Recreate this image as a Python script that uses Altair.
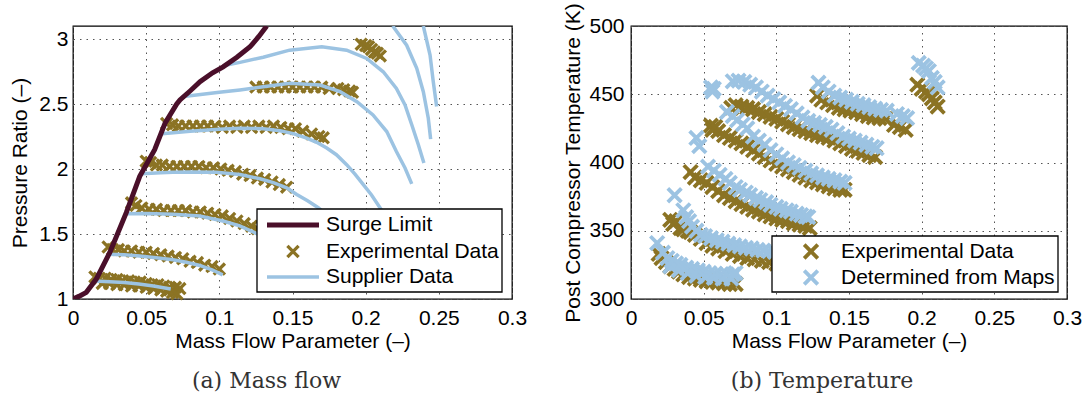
import altair as alt
import pandas as pd

OLIVE = "#8B7324"
BLUE = "#9CC3E2"
MAROON = "#4A0F2A"
FONT = "Liberation Sans"
SERIF = "DejaVu Serif"
XPATH = "M-1,-1L1,1M-1,1L1,-1"

# ---------------- tick values ----------------
x_ticks = [0, 0.05, 0.1, 0.15, 0.2, 0.25, 0.3]
pr_ticks = [1, 1.5, 2, 2.5, 3]
t_ticks = [300, 350, 400, 450, 500]

# ---------------- (a) surge limit ----------------
surge_x = [0, 0.004, 0.0091, 0.0159, 0.0251, 0.0364, 0.0456, 0.0558, 0.063, 0.0709, 0.0731, 0.08, 0.0868, 0.0954, 0.1026, 0.112, 0.121, 0.127, 0.1324]
surge_y = [1.0, 1.02, 1.051, 1.153, 1.357, 1.664, 1.944, 2.148, 2.355, 2.5, 2.531, 2.6, 2.671, 2.74, 2.786, 2.86, 2.94, 3.02, 3.1]

# ---------------- (a) supplier speed lines ----------------
sup_A_x = [0.0146, 0.025, 0.035, 0.045, 0.055, 0.0668]
sup_A_y = [1.138, 1.133, 1.127, 1.115, 1.100, 1.077]
sup_B_x = [0.0237, 0.035, 0.0456, 0.0568, 0.0683, 0.0775, 0.0866, 0.095, 0.1023]
sup_B_y = [1.345, 1.340, 1.330, 1.318, 1.302, 1.283, 1.258, 1.225, 1.186]
sup_C_x = [0.036, 0.05, 0.0683, 0.0866, 0.1025, 0.1139, 0.1241, 0.135, 0.146]
sup_C_y = [1.656, 1.658, 1.652, 1.638, 1.600, 1.562, 1.510, 1.450, 1.380]
sup_D_x = [0.0469, 0.06, 0.0683, 0.08, 0.098, 0.1141, 0.1278, 0.1369, 0.146, 0.1529, 0.1603, 0.1676, 0.176]
sup_D_y = [1.964, 1.972, 1.975, 1.977, 1.975, 1.957, 1.925, 1.895, 1.855, 1.804, 1.755, 1.702, 1.62]
sup_E_x = [0.061, 0.08, 0.1, 0.1141, 0.130, 0.1415, 0.1505, 0.1597, 0.1665, 0.1734, 0.180, 0.187, 0.1927, 0.1984, 0.204, 0.2098, 0.214]
sup_E_y = [2.271, 2.290, 2.305, 2.314, 2.310, 2.294, 2.272, 2.238, 2.205, 2.161, 2.11, 2.033, 1.96, 1.88, 1.80, 1.702, 1.63]
sup_F_x = [0.0743, 0.1, 0.1141, 0.13, 0.148, 0.1688, 0.1825, 0.194, 0.205, 0.2144, 0.221, 0.2269, 0.2315]
sup_F_y = [2.556, 2.590, 2.608, 2.632, 2.659, 2.646, 2.595, 2.518, 2.416, 2.288, 2.135, 2.008, 1.886]
sup_G_x = [0.105, 0.1141, 0.13, 0.148, 0.170, 0.187, 0.2007, 0.212, 0.221, 0.2269, 0.2315, 0.236, 0.2398]
sup_G_y = [2.80, 2.82, 2.86, 2.914, 2.94, 2.914, 2.85, 2.748, 2.62, 2.493, 2.34, 2.187, 2.046]
sup_H_x = [0.2185, 0.228, 0.2349, 0.2394, 0.2428, 0.2444]
sup_H_y = [3.1, 2.952, 2.774, 2.595, 2.39, 2.23]
sup_I_x = [0.2394, 0.244, 0.2462, 0.2485]
sup_I_y = [3.1, 2.876, 2.671, 2.48]

# ---------------- (a) experimental data ----------------
exp1a_x = [0.015, 0.018, 0.022, 0.026, 0.030, 0.034, 0.038, 0.042, 0.046, 0.050, 0.054, 0.058, 0.062, 0.066, 0.070, 0.073]
exp1a_y = [1.17, 1.16, 1.16, 1.15, 1.15, 1.14, 1.14, 1.13, 1.13, 1.12, 1.11, 1.11, 1.10, 1.09, 1.09, 1.08]
exp1b_x = [0.020, 0.025, 0.030, 0.035, 0.040, 0.045, 0.050, 0.055, 0.060, 0.064, 0.068, 0.071]
exp1b_y = [1.12, 1.12, 1.11, 1.11, 1.10, 1.10, 1.09, 1.08, 1.07, 1.06, 1.05, 1.04]
exp2_x = [0.024, 0.027, 0.031, 0.035, 0.040, 0.045, 0.050, 0.055, 0.060, 0.065, 0.070, 0.075, 0.080, 0.085, 0.090, 0.095, 0.100]
exp2_y = [1.40, 1.38, 1.38, 1.37, 1.37, 1.36, 1.36, 1.35, 1.34, 1.33, 1.32, 1.31, 1.29, 1.28, 1.26, 1.25, 1.23]
exp3_x = [0.040, 0.043, 0.047, 0.052, 0.057, 0.062, 0.067, 0.072, 0.077, 0.082, 0.087, 0.092, 0.097, 0.102, 0.107, 0.112, 0.117, 0.122, 0.126, 0.131, 0.136, 0.141, 0.145]
exp3_y = [1.74, 1.72, 1.70, 1.69, 1.69, 1.68, 1.68, 1.68, 1.68, 1.67, 1.67, 1.66, 1.65, 1.64, 1.62, 1.60, 1.58, 1.56, 1.54, 1.52, 1.50, 1.48, 1.46]
exp4_x = [0.050, 0.053, 0.057, 0.061, 0.066, 0.071, 0.076, 0.081, 0.086, 0.091, 0.096, 0.101, 0.106, 0.111, 0.116, 0.121, 0.126, 0.131, 0.136, 0.141, 0.146]
exp4_y = [2.06, 2.05, 2.03, 2.03, 2.02, 2.02, 2.02, 2.02, 2.02, 2.01, 2.01, 2.00, 1.99, 1.98, 1.96, 1.95, 1.93, 1.92, 1.90, 1.88, 1.86]
exp5_x = [0.064, 0.068, 0.072, 0.077, 0.082, 0.087, 0.092, 0.097, 0.102, 0.107, 0.112, 0.117, 0.122, 0.127, 0.132, 0.137, 0.142, 0.147, 0.152, 0.157, 0.163, 0.168, 0.171]
exp5_y = [2.35, 2.34, 2.33, 2.33, 2.33, 2.33, 2.33, 2.33, 2.32, 2.33, 2.32, 2.33, 2.32, 2.33, 2.32, 2.33, 2.32, 2.31, 2.31, 2.29, 2.27, 2.25, 2.24]
exp6_x = [0.125, 0.130, 0.135, 0.140, 0.145, 0.150, 0.155, 0.160, 0.165, 0.170, 0.175, 0.181, 0.185, 0.189, 0.191]
exp6_y = [2.63, 2.63, 2.63, 2.63, 2.63, 2.63, 2.63, 2.63, 2.63, 2.63, 2.62, 2.62, 2.61, 2.60, 2.59]
exp7_x = [0.197, 0.200, 0.202, 0.204, 0.206, 0.208, 0.210]
exp7_y = [2.96, 2.95, 2.94, 2.92, 2.90, 2.89, 2.87]

# ---------------- (b) temperatures ----------------
o1_x = [0.019, 0.021, 0.024, 0.027, 0.030, 0.033, 0.036, 0.040, 0.044, 0.048, 0.052, 0.056, 0.060, 0.064, 0.068, 0.072]
o1_t = [333, 330, 327, 324, 322, 320, 318, 316, 315, 314, 313, 312.5, 312, 311.5, 311, 311]
o2_x = [0.027, 0.029, 0.031, 0.034, 0.036, 0.039, 0.041, 0.044, 0.048, 0.052, 0.056, 0.060, 0.065, 0.070, 0.075, 0.080, 0.085, 0.090, 0.095, 0.100, 0.105, 0.110, 0.115, 0.120]
o2_t = [358, 355, 357, 352, 351, 350, 349, 347, 344, 341, 339, 337, 335, 333, 331.5, 330, 329, 328, 327, 326, 325.5, 325, 324.5, 324]
o3_x = [0.041, 0.044, 0.048, 0.052, 0.056, 0.060, 0.064, 0.068, 0.072, 0.076, 0.080, 0.084, 0.088, 0.092, 0.096, 0.100, 0.104, 0.108, 0.112, 0.116, 0.120, 0.123]
o3_t = [393, 389, 387, 385, 382, 379, 376, 374, 371.5, 369.5, 367.5, 365.5, 364, 362, 360.5, 359, 358, 357, 355.5, 354.5, 353.5, 352]
o4_x = [0.055, 0.056, 0.058, 0.060, 0.064, 0.068, 0.072, 0.076, 0.080, 0.084, 0.088, 0.092, 0.096, 0.100, 0.104, 0.108, 0.112, 0.116, 0.120, 0.124, 0.128, 0.132, 0.136, 0.140, 0.144, 0.147]
o4_t = [427, 424, 426, 423, 420, 418, 416, 414, 411.5, 409, 406.5, 404, 401.5, 399, 397, 395, 393, 391, 389, 387, 385.5, 384, 382.5, 381, 380, 380]
o5_x = [0.069, 0.072, 0.076, 0.080, 0.084, 0.088, 0.092, 0.096, 0.100, 0.104, 0.108, 0.112, 0.116, 0.120, 0.124, 0.128, 0.132, 0.136, 0.140, 0.144, 0.148, 0.152, 0.156, 0.160, 0.164, 0.168]
o5_t = [440, 442, 441, 440, 439, 437, 435.5, 433.5, 432, 430, 428, 426, 424.5, 423, 421.5, 420, 419, 418, 416, 414, 412, 410, 408.5, 407, 405.5, 404]
o6_x = [0.128, 0.131, 0.135, 0.139, 0.143, 0.147, 0.151, 0.155, 0.159, 0.163, 0.167, 0.171, 0.175, 0.181, 0.185, 0.189]
o6_t = [449, 446, 444, 442, 440, 439, 438, 437, 435.5, 434, 433, 432.5, 432, 427.5, 426, 424]
o7_x = [0.197, 0.200, 0.203, 0.205, 0.207, 0.209, 0.211]
o7_t = [457, 454, 452, 450, 447, 444, 441]

b1_x = [0.018, 0.022, 0.025, 0.027, 0.028, 0.031, 0.033, 0.034, 0.038, 0.039, 0.042, 0.045, 0.046, 0.050, 0.051, 0.054, 0.057, 0.058, 0.062, 0.063, 0.066, 0.069, 0.070, 0.072]
b1_t = [341, 334, 330, 324, 328, 326, 321, 325, 323, 319, 322, 317, 321, 320, 316, 319, 315.5, 318.5, 318, 315, 318, 315, 318, 319]
b2_x = [0.030, 0.036, 0.038, 0.040, 0.042, 0.045, 0.048, 0.051, 0.055, 0.059, 0.063, 0.067, 0.071, 0.075, 0.079, 0.083, 0.087, 0.091, 0.095, 0.099, 0.104, 0.110, 0.116, 0.122]
b2_t = [376, 365, 360, 357, 353, 350, 347, 346, 344.5, 343, 342, 340.5, 339.5, 338.5, 337.5, 337, 336, 335.5, 335, 334.5, 334, 333.5, 333, 333]
b3_x = [0.045, 0.047, 0.053, 0.057, 0.061, 0.065, 0.068, 0.072, 0.075, 0.079, 0.082, 0.086, 0.089, 0.093, 0.096, 0.100, 0.103, 0.107, 0.110, 0.114, 0.117, 0.120, 0.122]
b3_t = [418, 412, 397, 394, 391, 388, 385, 382, 380, 378, 376, 374, 372.5, 371, 369, 367.5, 366, 365, 364, 362.5, 361.5, 360.5, 360]
b4_x = [0.055, 0.056, 0.057, 0.066, 0.070, 0.073, 0.077, 0.080, 0.084, 0.088, 0.092, 0.096, 0.100, 0.104, 0.108, 0.112, 0.116, 0.120, 0.124, 0.128, 0.132, 0.136, 0.140, 0.144, 0.147]
b4_t = [455, 452, 454, 437, 434, 431, 428, 425, 419, 416, 413, 409, 406, 403, 400, 398, 396, 394, 392, 390.5, 389, 388, 387, 386, 385]
b5_x = [0.070, 0.074, 0.078, 0.082, 0.086, 0.090, 0.094, 0.098, 0.102, 0.106, 0.110, 0.114, 0.118, 0.122, 0.126, 0.130, 0.134, 0.138, 0.142, 0.146, 0.150, 0.154, 0.158, 0.162, 0.166, 0.169]
b5_t = [459.5, 460, 459, 457, 455, 452, 449, 446.5, 444, 441.5, 439, 436, 433, 430.5, 429, 427.5, 426, 424, 421.5, 419, 417.5, 416, 414.5, 413, 411.5, 410.5]
b6_x = [0.129, 0.132, 0.136, 0.140, 0.144, 0.148, 0.152, 0.156, 0.160, 0.164, 0.168, 0.172, 0.176, 0.183, 0.187, 0.190]
b6_t = [458.5, 455, 452, 449, 447.5, 446, 444.5, 443, 442, 440.5, 439.5, 438.5, 438, 435.5, 434, 432.5]
b7_x = [0.198, 0.201, 0.203, 0.205, 0.207, 0.209, 0.211]
b7_t = [473, 471, 469, 467, 462, 459, 455]

# ---------------- tables ----------------
def line_table(groups):
    rows = []
    for name, xs_, ys_ in groups:
        for i, (a, b) in enumerate(zip(xs_, ys_)):
            rows.append({"x": a, "y": b, "grp": name, "idx": i})
    return pd.DataFrame(rows)

surge_df = line_table([("surge", surge_x, surge_y)])
sup_df = line_table([
    ("A", sup_A_x, sup_A_y), ("B", sup_B_x, sup_B_y), ("C", sup_C_x, sup_C_y),
    ("D", sup_D_x, sup_D_y), ("E", sup_E_x, sup_E_y), ("F", sup_F_x, sup_F_y),
    ("G", sup_G_x, sup_G_y), ("H", sup_H_x, sup_H_y), ("I", sup_I_x, sup_I_y),
])
exp_df = line_table([
    ("1a", exp1a_x, exp1a_y), ("1b", exp1b_x, exp1b_y), ("2", exp2_x, exp2_y),
    ("3", exp3_x, exp3_y), ("4", exp4_x, exp4_y), ("5", exp5_x, exp5_y),
    ("6", exp6_x, exp6_y), ("7", exp7_x, exp7_y),
])
olive_df = line_table([
    ("1", o1_x, o1_t), ("2", o2_x, o2_t), ("3", o3_x, o3_t), ("4", o4_x, o4_t),
    ("5", o5_x, o5_t), ("6", o6_x, o6_t), ("7", o7_x, o7_t),
])
blue_df = line_table([
    ("1", b1_x, b1_t), ("2", b2_x, b2_t), ("3", b3_x, b3_t), ("4", b4_x, b4_t),
    ("5", b5_x, b5_t), ("6", b6_x, b6_t), ("7", b7_x, b7_t),
])
one = pd.DataFrame({"k": [0]})

# ---------------- scales / axes ----------------
xs = alt.Scale(domain=[0, 0.3], nice=False, zero=False)
ys_a = alt.Scale(domain=[1, 3.1], nice=False, zero=False)
ys_b = alt.Scale(domain=[300, 500], nice=False, zero=False)

FS = 21
GRID = dict(grid=True, gridColor="#555555", gridDash=[1.5, 5], gridWidth=1, ticks=False, domain=False,
            labelFont=FONT, labelFontSize=FS, labelColor="black", titleFont=FONT, titleFontSize=FS,
            titleFontWeight="normal", titleColor="black")

def xaxis():
    return alt.Axis(title="Mass Flow Parameter (–)", values=x_ticks, format="~g", labelFlush=False,
                    labelOverlap=False, labelPadding=8, titlePadding=2, **GRID)

def yaxis(title, vals, fmt, lp, tp):
    return alt.Axis(title=title, values=vals, format=fmt, labelPadding=lp, titlePadding=tp,
                    labelOverlap=False, **GRID)

W_A, W_B, H = 439, 436, 273

# ---------------- legend helpers ----------------
def box(x1, x2, y1, y2):
    return alt.Chart(one).mark_rect(fill="white", stroke="black", strokeWidth=1.3).encode(
        x=alt.value(x1), x2=alt.value(x2), y=alt.value(y1), y2=alt.value(y2))

def leg_line(x1, x2, y, color, w):
    return alt.Chart(one).mark_rule(color=color, strokeWidth=w).encode(
        x=alt.value(x1), x2=alt.value(x2), y=alt.value(y))

def leg_x(x, y, color, size, w):
    return alt.Chart(one).mark_point(shape=XPATH, filled=False, size=size, strokeWidth=w,
                                     color=color, opacity=1).encode(x=alt.value(x), y=alt.value(y))

def leg_text(x, y, label):
    return alt.Chart(one).mark_text(align="left", baseline="middle", font=FONT, fontSize=FS,
                                    color="black").encode(x=alt.value(x), y=alt.value(y),
                                                          text=alt.value(label))

# ---------------- panel (a) ----------------
SA, WA = 125, 3.3
pts_a = alt.Chart(exp_df).mark_point(shape=XPATH, filled=False, size=SA, strokeWidth=WA,
                                     color=OLIVE, opacity=1).encode(
    x=alt.X("x:Q", scale=xs, axis=xaxis()),
    y=alt.Y("y:Q", scale=ys_a, axis=yaxis("Pressure Ratio (–)", pr_ticks, "~g", 5, 8)),
)
sup_a = alt.Chart(sup_df).mark_line(color=BLUE, strokeWidth=3.5, clip=True).encode(
    x=alt.X("x:Q", scale=xs), y=alt.Y("y:Q", scale=ys_a), detail="grp:N", order="idx:Q")
surge_a = alt.Chart(surge_df).mark_line(color=MAROON, strokeWidth=5, clip=True).encode(
    x=alt.X("x:Q", scale=xs), y=alt.Y("y:Q", scale=ys_a), order="idx:Q")

leg_a = [
    box(184, 429, 183, 266),
    leg_line(194, 246, 199, MAROON, 5),
    leg_x(220, 225.5, OLIVE, SA, WA),
    leg_line(194, 246, 251, BLUE, 3.5),
    leg_text(253, 199, "Surge Limit"),
    leg_text(253, 225.5, "Experimental Data"),
    leg_text(253, 251, "Supplier Data"),
]

panel_a = alt.layer(pts_a, sup_a, surge_a, *leg_a).properties(
    width=W_A, height=H,
    title=alt.TitleParams("(a) Mass flow", orient="bottom", anchor="middle", frame="group",
                          font=SERIF, fontSize=22, fontWeight="normal", color="#333333",
                          offset=20, dx=-26),
)

# ---------------- panel (b) ----------------
SB, WB = 185, 3.8
olive_b = alt.Chart(olive_df).mark_point(shape=XPATH, filled=False, size=SB, strokeWidth=WB,
                                         color=OLIVE, opacity=1).encode(
    x=alt.X("x:Q", scale=xs, axis=xaxis()),
    y=alt.Y("y:Q", scale=ys_b, axis=yaxis("Post Compressor Temperature (K)", t_ticks, "d", 7, 5)),
)
blue_b = alt.Chart(blue_df).mark_point(shape=XPATH, filled=False, size=SB, strokeWidth=WB,
                                       color=BLUE, opacity=1).encode(
    x=alt.X("x:Q", scale=xs), y=alt.Y("y:Q", scale=ys_b))

leg_b = [
    box(141, 427, 210, 266),
    leg_x(180, 225.5, OLIVE, SB, WB),
    leg_x(180, 251.5, BLUE, SB, WB),
    leg_text(210, 225.5, "Experimental Data"),
    leg_text(210, 251.5, "Determined from Maps"),
]

panel_b = alt.layer(olive_b, blue_b, *leg_b).properties(
    width=W_B, height=H,
    title=alt.TitleParams("(b) Temperature", orient="bottom", anchor="middle", frame="group",
                          font=SERIF, fontSize=22, fontWeight="normal", color="#333333",
                          offset=20, dx=-27),
)

chart = alt.hconcat(panel_a, panel_b, spacing=119, bounds="flush").properties(
    padding={"left": 9, "top": 1, "right": 5, "bottom": 5},
    background="white",
).configure_view(stroke="black", strokeWidth=1.3)

chart.save("out.html", embed_options={"renderer": "svg", "actions": False})
